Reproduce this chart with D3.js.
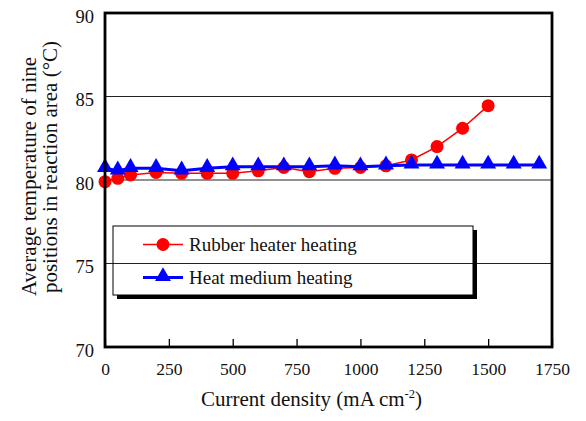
<!DOCTYPE html>
<html>
<head>
<meta charset="utf-8">
<script src="https://cdn.jsdelivr.net/npm/d3@7/dist/d3.min.js"></script>
<style>
  html, body { margin: 0; padding: 0; background: #fff; }
  svg { display: block; }
  svg text { font-family: "Times New Roman", "Liberation Serif", Times, "DejaVu Serif", serif; }
</style>
</head>
<body>
<svg id="chart" width="586" height="421"></svg>
<script>
// Current density (mA cm-2) and average temperature (°C)
const rubberX = [0, 50, 100, 200, 300, 400, 500, 600, 700, 800, 900, 1000, 1100, 1200, 1300, 1400, 1500];
const rubberY = [79.9, 80.1, 80.3, 80.45, 80.4, 80.4, 80.4, 80.55, 80.75, 80.5, 80.7, 80.75, 80.85, 81.2, 82.0, 83.1, 84.45];
const mediumX = [0, 50, 100, 200, 300, 400, 500, 600, 700, 800, 900, 1000, 1100, 1200, 1300, 1400, 1500, 1600, 1700];
const mediumY = [80.7, 80.55, 80.7, 80.7, 80.55, 80.7, 80.8, 80.8, 80.8, 80.8, 80.85, 80.8, 80.85, 80.9, 80.9, 80.9, 80.9, 80.9, 80.9];
const xTicks = [0, 250, 500, 750, 1000, 1250, 1500, 1750];
const yTicks = [70, 75, 80, 85, 90];
const seriesNames = ["Rubber heater heating", "Heat medium heating"];

const svg = d3.select("#chart");
const plotL = 105, plotR = 552, plotT = 13, plotB = 347;

const x = d3.scaleLinear().domain([0, 1750]).range([plotL, plotR]);
const y = d3.scaleLinear().domain([70, 90]).range([plotB, plotT]);

// horizontal gridlines
svg.append("g").selectAll("line")
  .data(yTicks.filter(v => v > 70 && v < 90))
  .join("line")
  .attr("x1", plotL).attr("x2", plotR)
  .attr("y1", d => y(d)).attr("y2", d => y(d))
  .attr("stroke", "#222").attr("stroke-width", 1);

// x axis: ticks point into the plot
const xAxis = svg.append("g")
  .attr("transform", `translate(0,${plotB})`)
  .call(d3.axisBottom(x).tickValues(xTicks).tickFormat(d3.format("d"))
    .tickSizeInner(-8).tickSizeOuter(0).tickPadding(16));
xAxis.attr("font-family", null).attr("font-size", null);
xAxis.select(".domain").remove();
xAxis.selectAll(".tick line").attr("stroke", "#000").attr("stroke-width", 1.3);
xAxis.selectAll("text").attr("font-size", 17.5).attr("fill", "#111");

// y axis labels
const yAxis = svg.append("g")
  .attr("transform", `translate(${plotL},0)`)
  .call(d3.axisLeft(y).tickValues(yTicks).tickFormat(d3.format("d")).tickSize(0).tickPadding(11));
yAxis.attr("font-family", null).attr("font-size", null);
yAxis.select(".domain").remove();
yAxis.selectAll("text").attr("font-size", 18.5).attr("fill", "#111").attr("dy", "0.5em");

// legend frame (no fill) with a drop shadow on the right and bottom
const lg = svg.append("g");
const lx = 113, ly = 226, lw = 360, lh = 69;
lg.append("path")
  .attr("d", `M${lx + lw + 2},${ly + 4} V${ly + lh + 2} H${lx + 4}`)
  .attr("fill", "none").attr("stroke", "#000").attr("stroke-width", 4);
lg.append("rect")
  .attr("x", lx).attr("y", ly).attr("width", lw).attr("height", lh)
  .attr("fill", "none").attr("stroke", "#000").attr("stroke-width", 1);

const redLine = d3.line().x((d, i) => x(rubberX[i])).y(d => y(d));
const blueLine = d3.line().x((d, i) => x(mediumX[i])).y(d => y(d));
const tri = d3.symbol().type(d3.symbolTriangle).size(110);

// rubber heater series
svg.append("path").attr("d", redLine(rubberY))
  .attr("fill", "none").attr("stroke", "#ff0000").attr("stroke-width", 1.5);
svg.append("g").selectAll("circle").data(rubberY).join("circle")
  .attr("cx", (d, i) => x(rubberX[i])).attr("cy", d => y(d)).attr("r", 6.5)
  .attr("fill", "#ff0000");

// heat medium series
svg.append("path").attr("d", blueLine(mediumY))
  .attr("fill", "none").attr("stroke", "#0000ff").attr("stroke-width", 3);
svg.append("g").selectAll("path").data(mediumY).join("path")
  .attr("d", tri)
  .attr("transform", (d, i) => `translate(${x(mediumX[i])},${y(d) - 1})`)
  .attr("fill", "#0000ff");

// legend entries
const entries = [
  { name: seriesNames[0], color: "#ff0000", w: 1.5, cy: 244.5, base: 250.5, marker: "circle" },
  { name: seriesNames[1], color: "#0000ff", w: 3, cy: 277.5, base: 283.5, marker: "tri" }
];
entries.forEach(e => {
  lg.append("line").attr("x1", 143).attr("x2", 183).attr("y1", e.cy).attr("y2", e.cy)
    .attr("stroke", e.color).attr("stroke-width", e.w);
  if (e.marker === "circle") {
    lg.append("circle").attr("cx", 163).attr("cy", e.cy).attr("r", 6.5).attr("fill", e.color);
  } else {
    lg.append("path").attr("d", tri).attr("transform", `translate(163,${e.cy - 1})`).attr("fill", e.color);
  }
  lg.append("text").attr("x", 189).attr("y", e.base)
    .attr("font-size", 19).attr("fill", "#111").text(e.name);
});

// plot frame
svg.append("rect")
  .attr("x", plotL).attr("y", plotT).attr("width", plotR - plotL).attr("height", plotB - plotT)
  .attr("fill", "none").attr("stroke", "#000").attr("stroke-width", 2.8);

// axis titles
const yt = svg.append("text")
  .attr("transform", "rotate(-90)")
  .attr("text-anchor", "middle").attr("font-size", 21).attr("fill", "#111");
yt.append("tspan").attr("x", -176.5).attr("y", 35.5).text("Average temperature of nine");
yt.append("tspan").attr("x", -167).attr("y", 57).text("positions in reaction area (\u00B0C)");

const xt = svg.append("text")
  .attr("x", 311.5).attr("y", 406)
  .attr("text-anchor", "middle").attr("font-size", 21).attr("fill", "#111");
xt.append("tspan").text("Current density (mA cm");
xt.append("tspan").attr("font-size", 12.5).attr("dy", -8).text("-2");
xt.append("tspan").attr("dy", 8).text(")");
</script>
</body>
</html>
